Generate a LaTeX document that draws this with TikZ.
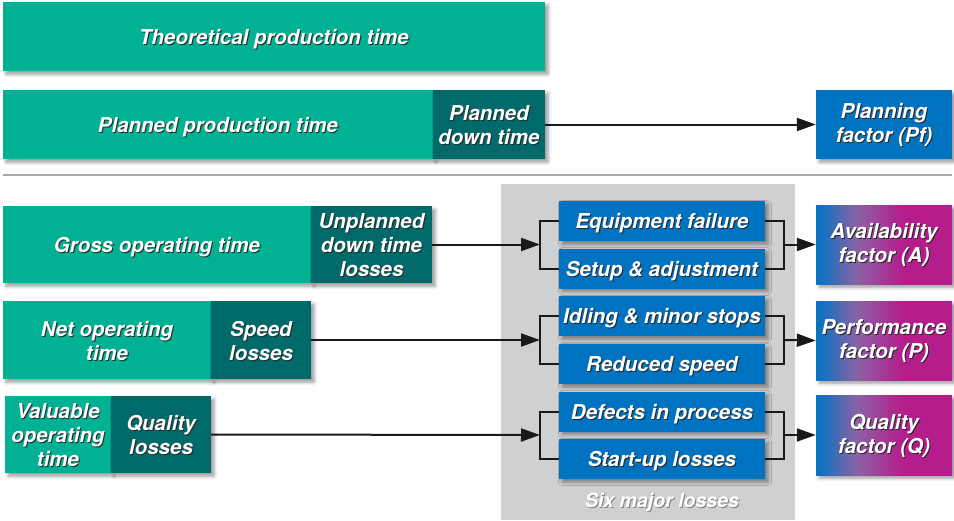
\documentclass[tikz,border=0pt]{standalone}
\usepackage{fontspec}
\setmainfont{TeX Gyre Heros}
\usetikzlibrary{arrows.meta,shadows.blur}

\definecolor{teal}{HTML}{00B194}
\definecolor{darkteal}{HTML}{006A6A}
\definecolor{lossblue}{HTML}{0073C0}
\definecolor{panelgray}{HTML}{CFD0D2}
\definecolor{rulegray}{HTML}{A9A9AB}
\definecolor{txtshadow}{HTML}{262626}
\definecolor{fblue}{HTML}{0A72C2}
\definecolor{fmid}{HTML}{8C61A6}
\definecolor{fmag}{HTML}{B51C8C}

% the path's width spans 25bp..75bp of this shading
\pgfdeclarehorizontalshading{factorgrad}{100bp}{%
  color(0bp)=(fblue); color(26bp)=(fblue); color(40bp)=(fmid);
  color(57bp)=(fmag); color(100bp)=(fmag)}

% white label with a small dark drop shadow, set slightly low in its line
\newcommand\shd[1]{\raisebox{-1pt}[\height][\depth]{\rlap{\kern1pt\raisebox{-1pt}{\color{txtshadow}#1}}#1}}
% same, for single-line labels
\newcommand\shds[1]{\raisebox{-3pt}[\height][\depth]{\rlap{\kern1pt\raisebox{-1pt}{\color{txtshadow}#1}}#1}}

\tikzset{
  box/.style={rectangle, inner sep=0pt, text=white, align=center,
    font=\fontsize{20.5}{24}\selectfont\bfseries\itshape,
    blur shadow={shadow xshift=3pt, shadow yshift=-3pt,
      shadow blur radius=3.5pt, shadow opacity=40}},
  timebox/.style={box, fill=teal},
  lossbox/.style={box, fill=darkteal},
  bluebox/.style={box, fill=lossblue, minimum width=206pt, minimum height=40pt},
  factorbox/.style={box, shading=factorgrad, minimum width=136pt},
  pfbox/.style={box, fill=lossblue, minimum width=136pt},
  arr/.style={line width=2pt, draw=black!90, -{Triangle[length=19pt,width=13pt]}},
  brk/.style={line width=2pt, draw=black!90},
}

\begin{document}
\begin{tikzpicture}[x=1pt, y=-1pt]
\useasboundingbox (0,0) rectangle (954,520);

% panel behind the six losses
\fill[panelgray] (501,184) rectangle (795,520);

% separator rule
\draw[rulegray, line width=2.5pt] (3,175) -- (952,175);

% time bars
\node[timebox, minimum width=542pt, minimum height=69pt] (theo) at (274,36.5)
  {\shds{Theoretical production time}};
\node[timebox, minimum width=430pt, minimum height=69pt] (plprod) at (218,124.5)
  {\shds{Planned production time}};
\node[lossbox, minimum width=112pt, minimum height=69pt] (pldown) at (489,124.5)
  {\shd{Planned}\\\shd{down time}};

\node[timebox, minimum width=308pt, minimum height=77pt] (gross) at (157,244.5)
  {\shds{Gross operating time}};
\node[lossbox, minimum width=121pt, minimum height=77pt] (unpl) at (371.5,244.5)
  {\shd{Unplanned}\\\shd{down time}\\\shd{losses}};

\node[timebox, minimum width=208pt, minimum height=78pt] (net) at (107,340)
  {\shd{Net operating}\\\shd{time}};
\node[lossbox, minimum width=100pt, minimum height=78pt] (speed) at (261,340)
  {\shd{Speed}\\\shd{losses}};

\node[timebox, minimum width=106pt, minimum height=77pt] (valu) at (58,434.5)
  {\shd{Valuable}\\\shd{operating}\\\shd{time}};
\node[lossbox, minimum width=100pt, minimum height=77pt] (qual) at (161,434.5)
  {\shd{Quality}\\\shd{losses}};

% factors
\node[pfbox, minimum height=69pt] (pf) at (884,124.5)
  {\shd{Planning}\\\shd{factor (Pf)}};
\node[factorbox, minimum height=79pt] (avail) at (884,244.5)
  {\shd{Availability}\\\shd{factor (A)}};
\node[factorbox, minimum height=79pt] (perf) at (884,340.5)
  {\shd{Performance}\\\shd{factor (P)}};
\node[factorbox, minimum height=80pt] (qf) at (884,435)
  {\shd{Quality}\\\shd{factor (Q)}};

% six major losses
\node[bluebox] (eq) at (662,221) {\shds{Equipment failure}};
\node[bluebox] (setup) at (662,268.5) {\shds{Setup \& adjustment}};
\node[bluebox] (idle) at (662,316) {\shds{Idling \& minor stops}};
\node[bluebox] (red) at (662,364) {\shds{Reduced speed}};
\node[bluebox] (def) at (662,411.5) {\shds{Defects in process}};
\node[bluebox] (start) at (662,459) {\shds{Start-up losses}};

\node[text=white, font=\fontsize{19.5}{22}\selectfont\bfseries\itshape]
  (six) at (662,503)
  {\rlap{\kern1pt\raisebox{-1pt}{\color{black!50}Six major losses}}Six major losses};

% brackets joining each pair of losses
\draw[brk] (eq.west) -- ++(-19,0) |- (setup.west);
\draw[brk] (eq.east) -- ++(19,0) |- (setup.east);
\draw[brk] (idle.west) -- ++(-19,0) |- (red.west);
\draw[brk] (idle.east) -- ++(19,0) |- (red.east);
\draw[brk] (def.west) -- ++(-19,0) |- (start.west);
\draw[brk] (def.east) -- ++(19,0) |- (start.east);

% bracket midpoints
\coordinate (l1) at (540,244.5);
\coordinate (l2) at (540,340);
\coordinate (l3) at (540,435);
\coordinate (r1) at (784,244.5);
\coordinate (r2) at (784,340);
\coordinate (r3) at (784,435);

% connectors
\draw[arr] (pldown.east) -- (pf.west);
\draw[arr] (unpl.east) -- (l1);
\draw[arr] (speed.east) -- (l2);
\draw[arr] (qual.east) -- (l3);
\draw[arr] (r1) -- (avail.west);
\draw[arr] (r2) -- (perf.west);
\draw[arr] (r3) -- (qf.west);
\end{tikzpicture}
\end{document}
